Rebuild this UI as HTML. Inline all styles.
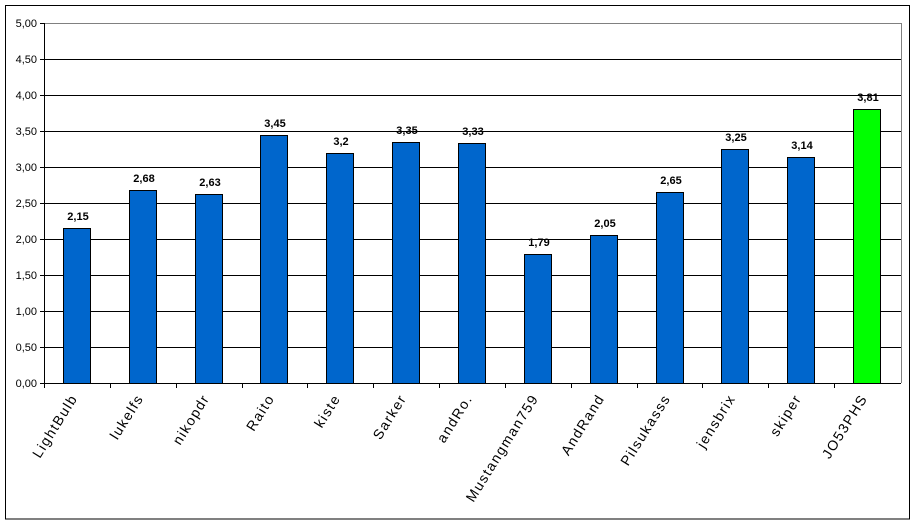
<!DOCTYPE html>
<html><head><meta charset="utf-8"><style>
html,body{margin:0;padding:0;background:#fff;}
svg{display:block;font-family:"Liberation Sans",Arial,sans-serif;}
</style></head><body>
<svg width="915" height="524" xmlns="http://www.w3.org/2000/svg">
<rect x="5.5" y="5.5" width="904" height="513.5" fill="#fff" stroke="#000" stroke-width="1"/>
<g stroke="#000" stroke-width="1">
<line x1="44" y1="23.5" x2="901" y2="23.5" stroke="#808080"/>
<line x1="40" y1="59.5" x2="901" y2="59.5"/>
<line x1="40" y1="95.5" x2="901" y2="95.5"/>
<line x1="40" y1="131.5" x2="901" y2="131.5"/>
<line x1="40" y1="167.5" x2="901" y2="167.5"/>
<line x1="40" y1="203.5" x2="901" y2="203.5"/>
<line x1="40" y1="239.5" x2="901" y2="239.5"/>
<line x1="40" y1="275.5" x2="901" y2="275.5"/>
<line x1="40" y1="311.5" x2="901" y2="311.5"/>
<line x1="40" y1="347.5" x2="901" y2="347.5"/>
<line x1="40" y1="23.5" x2="44" y2="23.5"/>
<line x1="901.5" y1="23" x2="901.5" y2="383" stroke="#808080"/>
</g>
<g font-size="11" text-anchor="end" fill="#000">
<text x="37" y="27">5,00</text><text x="37" y="63">4,50</text><text x="37" y="99">4,00</text>
<text x="37" y="135">3,50</text><text x="37" y="171">3,00</text><text x="37" y="207">2,50</text>
<text x="37" y="243">2,00</text><text x="37" y="279">1,50</text><text x="37" y="315">1,00</text>
<text x="37" y="351">0,50</text><text x="37" y="387">0,00</text>
</g>
<g stroke="#000" stroke-width="1" fill="#0066cc">
<rect x="63.5" y="228.5" width="27" height="155"/>
<rect x="129.5" y="190.5" width="27" height="193"/>
<rect x="195.5" y="194.5" width="27" height="189"/>
<rect x="260.5" y="135.5" width="27" height="248"/>
<rect x="326.5" y="153.5" width="27" height="230"/>
<rect x="392.5" y="142.5" width="27" height="241"/>
<rect x="458.5" y="143.5" width="27" height="240"/>
<rect x="524.5" y="254.5" width="27" height="129"/>
<rect x="590.5" y="235.5" width="27" height="148"/>
<rect x="656.5" y="192.5" width="27" height="191"/>
<rect x="721.5" y="149.5" width="27" height="234"/>
<rect x="787.5" y="157.5" width="27" height="226"/>
<rect x="853.5" y="109.5" width="27" height="274" fill="#00ff00"/>
</g>
<g font-size="11" font-weight="bold" text-anchor="middle">
<text x="78" y="220">2,15</text>
<text x="144" y="182">2,68</text>
<text x="210" y="186">2,63</text>
<text x="275" y="127">3,45</text>
<text x="341" y="145">3,2</text>
<text x="407" y="134">3,35</text>
<text x="473" y="135">3,33</text>
<text x="539" y="246">1,79</text>
<text x="605" y="227">2,05</text>
<text x="671" y="184">2,65</text>
<text x="736" y="141">3,25</text>
<text x="802" y="149">3,14</text>
<text x="868" y="101">3,81</text>
</g>
<g font-size="14" letter-spacing="1.5" text-anchor="end">
<text transform="translate(78,398) rotate(-58)">LightBulb</text>
<text transform="translate(144,398) rotate(-58)">lukelfs</text>
<text transform="translate(210,398) rotate(-58)">nikopdr</text>
<text transform="translate(275,398) rotate(-58)">Raito</text>
<text transform="translate(341,398) rotate(-58)">kiste</text>
<text transform="translate(407,398) rotate(-58)">Sarker</text>
<text transform="translate(473,398) rotate(-58)">andRo.</text>
<text transform="translate(539,398) rotate(-58)">Mustangman759</text>
<text transform="translate(605,398) rotate(-58)">AndRand</text>
<text transform="translate(671,398) rotate(-58)">Pilsukasss</text>
<text transform="translate(736,398) rotate(-58)">jensbrix</text>
<text transform="translate(802,398) rotate(-58)">skiper</text>
<text transform="translate(868,398) rotate(-58)">JO53PHS</text>
</g>
<g stroke="#000" stroke-width="1">
<line x1="44.5" y1="23" x2="44.5" y2="388"/>
<line x1="40" y1="383.5" x2="901" y2="383.5"/>
<line x1="110.5" y1="383" x2="110.5" y2="388"/>
<line x1="176.5" y1="383" x2="176.5" y2="388"/>
<line x1="242.5" y1="383" x2="242.5" y2="388"/>
<line x1="307.5" y1="383" x2="307.5" y2="388"/>
<line x1="373.5" y1="383" x2="373.5" y2="388"/>
<line x1="439.5" y1="383" x2="439.5" y2="388"/>
<line x1="505.5" y1="383" x2="505.5" y2="388"/>
<line x1="571.5" y1="383" x2="571.5" y2="388"/>
<line x1="637.5" y1="383" x2="637.5" y2="388"/>
<line x1="702.5" y1="383" x2="702.5" y2="388"/>
<line x1="768.5" y1="383" x2="768.5" y2="388"/>
<line x1="834.5" y1="383" x2="834.5" y2="388"/>
</g>
</svg>
</body></html>
